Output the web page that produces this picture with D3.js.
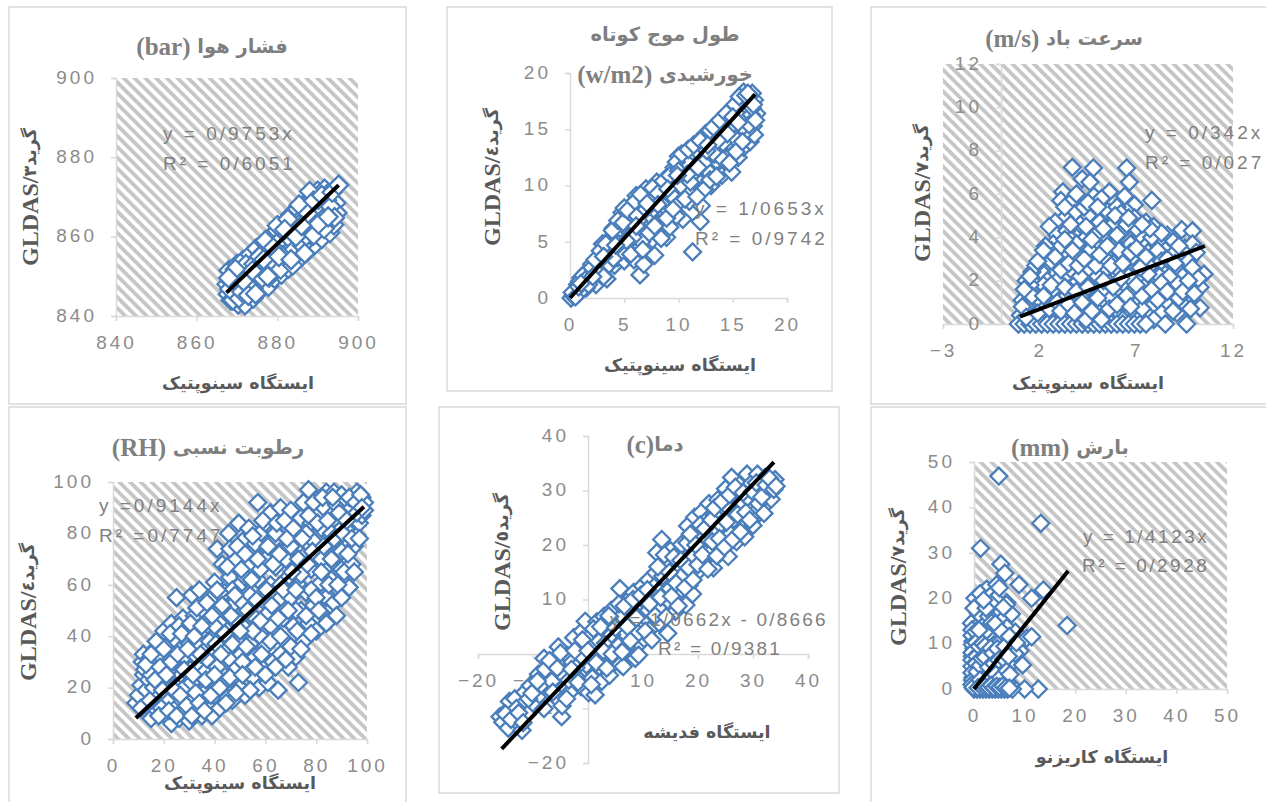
<!DOCTYPE html>
<html>
<head>
<meta charset="utf-8">
<script src="https://cdn.jsdelivr.net/npm/d3@7"></script>
<style>
  body { margin: 0; background: #fff; }
  .tick text { font-family: "Liberation Sans", sans-serif; font-size: 19px; letter-spacing: 3px; fill: #8c8c8c; }
  .title { font-family: "DejaVu Sans", sans-serif; font-weight: bold; font-size: 19.5px; fill: #7f7f7f; direction: rtl; }
  .axis-title { font-family: "DejaVu Sans", sans-serif; font-weight: bold; font-size: 17.5px; fill: #595959; direction: rtl; }
  .latin { font-family: "Liberation Serif", serif; }
  .eq { font-family: "Liberation Sans", sans-serif; font-size: 19px; letter-spacing: 3px; fill: #7f7f7f; }
</style>
</head>
<body>
<div id="chart"></div>
<script>
// values, [station, GLDAS]
const pressurePoints = [
  [867.5,848],[868,851.5],[867.8,845.5],[868.5,844],[869,846.5],[869.5,849],[870,853],[870.3,843],[870.8,847],[871,850.5],
  [871.5,854],[871.8,845],[872,842.8],[872.5,848.5],[873,852],[873.3,855.5],[873.6,846],[874,844.5],[874.3,850],[874.8,857],
  [875,853.5],[875.3,848],[875.8,846.5],[876,855.5],[876.3,851],[876.8,858.5],[877,849],[877.4,853.5],[877.8,847.5],[878,856.5],
  [878.3,860],[878.7,851],[879,854.5],[879.3,849.5],[879.7,858],[880,861.5],[880.3,852.5],[880.7,856],[881,850.5],[881.2,863],
  [881.6,859.5],[882,854],[882.3,857],[882.7,852],[883,862],[883.3,865.5],[883.6,855.5],[884,859],[884.4,853.5],[884.7,863.5],
  [885,867],[885.3,857],[885.7,861],[886,855],[886.3,865],[886.7,859],[887,868.5],[887.3,862.5],[887.7,856.5],[888,866],
  [888.3,860],[888.7,870],[889,864],[889.3,858],[889.7,867.5],[890,871.5],[890.3,861.5],[890.7,865],[891,859.5],[891.3,869],
  [891.7,872],[892,863],[892.3,867],[892.7,871],[893,861],[893.3,865.5],[893.7,869],[894,863],[894.5,868.5],[894.8,866],
  [876.5,852],[872.4,850],[878.6,855],[881.4,858],[884,861],[887,864],[889.5,866],[874.5,849],[879.5,853],[883,857],
  [885.5,859],[886.5,861.5],[888.5,862.5],[890.5,867],[877.5,851],[880.5,854],[882.5,856],[870,845],[869,844],[873,849],
  [875.5,850.5],[868.7,848.5],[870.5,844.5],[871.5,851.5],[874,847],
  [868.2,846.8],[869.2,850.4],[870.2,848.2],[871.2,846.1],[872.2,853],[873.2,847.2],[874.2,853.1],[875.2,851.6],[876.2,849.6],[877.2,855.8],
  [878.2,852.4],[879.2,856.2],[880.2,858.6],[881.2,855.2],[882.2,860.6],[883.2,859.4],[884.2,856.8],[885.2,863],[886.2,857.8],[887.2,860.2],
  [888.2,868],[889.2,861.2],[890.2,869.4],[891.2,864.4],[892.2,869.2],[893.2,867.6],[872.8,845.2],[875.6,855],[878,849.8],[880.8,851.8],
  [883.8,852.8],[886.8,855.8],[889,860.4],[891.6,862],[894.2,864.8],[877,859],[880,862.8],[882.6,864.4],[885.4,868],[888,871.4],
  [873.8,851.4],[876.6,854.2],[879,857.2],[881.8,861.8],[884.6,860],[887.6,865.8],[890.2,863.2],[892.6,865],[869.6,851.8],[871.6,848.8],
  [874.6,845.6],[877.6,850],[880.4,855],[883.4,854.2],[886,862.8],[889,869],[891,870.4],[893.6,871.2],[867.9,849.6],[895.2,873]
];
const solarPoints = [
  [0.1,0],[0.4,0.5],[0.7,1.2],[1,1.8],[0.8,0.4],[1.3,1.1],[1.6,2.4],[2,3],[2,1.5],[2.4,1.2],[2.7,3.6],[3,4.8],[3,2.6],[3.4,1.7],
  [3.7,4.2],[4,6.2],[4.1,2.9],[4.4,3.6],[4.6,5.2],[4.8,7.6],[5,3.3],[5.2,6.3],[5.5,4.6],[5.6,7.2],[5.9,3.4],[6,5.6],[6.1,9.1],[6.45,2.05],
  [6.5,6.1],[6.7,8.2],[6.8,3],[7,9.7],[7.1,4.4],[7.4,6.8],[7.5,8.6],[7.8,3.8],[8,5.9],[8,10.3],[8.3,7.4],[8.5,9],[8.9,5.4],[9,10.8],
  [9.1,7.7],[9.4,8.6],[9.6,11.6],[9.9,9.6],[10,12.6],[10.4,7],[10.5,10.3],[10.7,13],[11,8.6],[11.1,11.9],[11.3,4.1],[11.5,9.8],[11.7,13.8],
  [12,6.8],[12.1,8.2],[12.2,11],[12.5,14.6],[12.7,12.4],[13,10],[13.1,13.2],[13.4,15.3],[13.7,11.6],[13.9,14.4],[14,10.9],[14.3,16],[14.4,12.8],
  [14.7,15.2],[14.9,11.2],[15,13.4],[15.3,16.9],[15.5,12.5],[15.6,14.6],[15.8,17.6],[16,18.3],[16,13.4],[16.2,15.8],[16.4,16.9],[16.6,13.9],
  [16.8,18.2],[16.9,15.3],[17,14.5],[17.2,16.4],[17,17.6],[16.5,17.9],
  [1.5,0.9],[2.2,2.2],[3.2,3.2],[3.8,5.4],[4.3,4.4],[4.9,5.6],[5.3,4.1],[5.7,6.5],[6.2,4.9],[6.4,7.7],[6.9,5.3],[7.2,7.4],[7.6,5.2],[7.9,8.8],
  [8.2,6.6],[8.7,8.1],[8.8,10],[9.2,6.3],[9.7,10.2],[10.1,8.6],[10.3,11.4],[10.9,9.4],[11.2,12.7],[11.6,10.6],[11.9,12.1],[12.3,13.4],
  [12.8,11.2],[13.2,14.2],[13.5,12.2],[13.8,13.3],[14.2,15],[14.6,13.9],[15.1,15.5],[15.4,14],[15.7,16.2],[16.1,17.2],[16.3,14.9],[16.7,16.3],
  [1.1,0.7],[1.9,2.4],[2.5,2.9],[2.9,2],[3.5,3.9],[4.2,5.6],[4.7,4.1],[5.1,7],[5.4,5.4],[5.8,8.4],[6.3,6.9],[6.6,5],[7.3,9.1],[7.7,7.9],
  [8.4,9.5],[9.3,9.2],[9.8,7.3],[10.2,10],[10.6,12.2],[11.4,11.1],[11.8,13],[12.4,9.7],[12.9,14.9],[13.3,12.8],[14.1,13.8],[14.8,16.2],
  [15.2,17.2],[15.9,15.2],[16.6,17.4],[0.3,0.2],[0.6,0.8],[0.9,1.5],
  [0.2,0.5],[0.5,0.1],[0.8,1],[1.2,2],[1.4,1.6],[1.7,1.2],[2,2.7],[2.3,3.4],[2.6,2.2],[2.8,4.2],[3.1,1.9],[3.3,4.8],[3.6,3],[3.9,6],[4,3.5],
  [4.4,6.9],[4.5,4.8],[4.9,6.7],[5,8],[5.3,7.8],[5.6,3.9],[5.8,5.4],[6,8.6],[6.2,7.3],[6.5,9.2],[6.7,4.3],[7,7.9],[7.3,5.8],[7.6,9.8],[7.8,6.4],
  [8.1,9.3],[8.4,5.3],[8.6,10.4],[8.9,7.1],[9.2,10.9],[9.5,7.9],[9.8,12.1],[10,11.3],[10.3,12.8],[10.6,8.8],[10.9,13.2],[11.1,10.3],[11.4,13.6],
  [11.7,9],[12,14],[12.3,12],[12.6,13.1],[12.9,10.5],[13.2,15.2],[13.5,10.8],[13.8,15.8],[14.1,12.3],[14.4,16.4],[14.7,12],[15,16.1],[15.3,13],
  [15.6,17.9],[15.9,13.9],[16.2,18],[16.5,15.4],[16.8,16.9],[17.1,15.8],[16.9,17.2],[16.4,18.2],[15.5,15.6],[14.5,14.6],[13.6,14],[12.7,13.6],
  [11.8,11.6],[10.8,11],[9.9,10.9],[9,9.7],[8.1,8.3],[7.1,8.4],[6.1,6.4],[5.2,5.1],[4.2,4.7],[3.1,3.7],[2.1,1.9],[1,1.3]
];
const windPoints = [
  [3.69,7.23],[4.78,7.2],[6.5,7.2],[6.64,6.55],[4.2,6.7],[4.6,6.55],[7.8,5.7],[9.35,4.35],[9.9,4.3],[10.5,2.3],[10.3,0.75],[10.3,1.7],
  [3.2,6.1],[3.1,5.7],[3.7,5.7],[4.8,5.9],[5.6,6.1],[6.4,5.9],[6.9,5.5],[5.5,5.2],[6.5,5.2],[4.5,5],[3.8,5.1],[3.3,4.9],[2.8,4.7],[2.5,4.5],
  [2.9,4.1],[2.7,3.7],[3.4,4.3],[4.1,4.6],[5.1,4.7],[5.8,4.6],[6.9,4.9],[7.5,4.7],[7.9,4.5],[7.2,4.1],[6.3,4.3],[5.4,4.1],[4.4,4],[3.6,3.9],
  [8.6,4.1],[8.9,3.8],[8.2,3.7],[7.5,3.6],[6.7,3.7],[5.9,3.7],[5,3.5],[4.2,3.4],[3.3,3.3],[2.6,3.4],[2.2,3],[2.4,2.7],[3,2.8],[3.8,3],
  [4.7,3],[5.5,3.1],[6.4,3.1],[7.2,3],[8,3.1],[8.8,3],[9.5,3.5],[9.9,3.7],[10.1,3.3],[9.7,2.9],[9.1,2.5],[8.4,2.5],[7.7,2.7],[6.9,2.5],
  [6.2,2.4],[5.4,2.5],[4.5,2.5],[3.6,2.4],[2.8,2.4],[2.1,2.4],[1.6,2.4],[1.3,2],[1.7,1.9],[2.4,2],[3.2,2.1],[3.9,1.9],[4.7,1.9],[5.6,1.9],
  [6.4,1.8],[7.2,2],[8,1.9],[8.8,1.8],[9.4,2.2],[9.9,2.6],[10.2,2.1],[9.6,1.6],[9.1,1.9],[8.4,1.4],[7.6,1.4],[6.8,1.5],[6,1.4],[5.2,1.5],
  [4.3,1.4],[3.5,1.6],[2.7,1.6],[2,1.5],[1.4,1.5],[1.1,1.1],[1.7,1.1],[2.4,1.1],[3.1,1.1],[3.9,1],[4.7,1],[5.5,0.9],[6.3,1],[7.1,1],
  [7.9,0.9],[8.6,0.9],[9.3,1],[9.8,0.7],[9.1,0.5],[8.3,0.5],[7.5,0.5],[6.7,0.5],[5.9,0.5],[5.1,0.5],[4.4,0.6],[3.6,0.6],[2.8,0.6],[2.1,0.7],
  [1.4,0.7],[1,0.4],[1.7,0.4],[2.4,0.3],[3.2,0.3],[4,0.3],[4.8,0.2],[5.5,0.3],[6.3,0.2],[7.1,0.2],[7.9,0.2],[8.5,0],[9.6,0],[0.9,0],
  [1.2,0],[1.5,0],[1.8,0],[2.1,0],[2.4,0],[2.7,0],[3,0],[3.3,0],[3.6,0],[3.9,0],[4.2,0],[4.5,0],[4.8,0],[5.1,0],[5.4,0],[5.7,0],[6,0],[6.3,0],
  [6.6,0],[6.9,0],[7.2,0],[7.5,0],[4.1,0.8],[4.6,1.7],[5,2.2],[5.8,2.8],[6.6,2.2],[7.4,1.7],[8.2,2.2],[3.4,1.3],[2.9,2],[2.2,1.8],[1.9,1.2],
  [4.9,4.1],[5.3,3.1],[6.1,3.4],[6.8,3.1],[7.6,3.3],[8.5,3.4],[3.1,3.6],[3.9,3.7],[4.6,3.4],[5.2,5.8],[4.3,5.4],[6,5.4],[6.2,5.1],[7,4.4],
  [7.8,4],[8.3,4.2],[3.6,4.6],[2.6,2.9],[1.8,2.7],[1.5,1.8],[9,3.3],[9.2,1.2],[8.7,2.2],[7.3,0.7],[5.7,1.2],[4.1,2.2],
  [1.1,0.8],[1.3,0.3],[1.6,1.3],[1.9,0.5],[2.2,1.3],[2.5,0.7],[2.6,1.8],[2.9,1],[3.1,0.6],[3.3,1.7],[3.5,0.9],[3.8,0.5],[3.9,1.5],[4.2,1],[4.4,0.2],
  [4.5,1.7],[4.7,0.6],[5,1.2],[5.2,0.2],[5.3,2],[5.6,0.7],[5.8,1.7],[6,0.9],[6.2,2.1],[6.5,1.3],[6.7,0.8],[7,1.8],[7.3,1.3],[7.6,2.3],[7.8,1.6],
  [8.1,1.1],[8.3,1.9],[8.6,1.5],[8.9,0.6],[9.4,1.5],[9.7,2],[2.3,3.6],[2.8,3.1],[3.1,2.5],[3.3,3.9],[3.5,2.8],[3.7,3.4],[4,2.7],[4.3,3],[4.4,4.5],
  [4.7,3.9],[4.9,2.7],[5.1,3.2],[5.3,4.4],[5.5,3.6],[5.7,2.7],[6,4.1],[6.3,2.8],[6.5,4.6],[6.7,3.3],[7,3.5],[7.2,2.6],[7.5,3.1],[7.7,4.4],[8.1,3.4],
  [8.3,2.9],[8.6,3],[9,2.8],[9.2,3.6],[3.3,5.4],[3.9,6],[4.5,5.6],[5,5.4],[5.9,5],[6.6,4.9],[7.3,4.6],[1.2,1.6],[1.5,2.2],[1.9,2.9],[2.2,3.4],[10,1.4]
];
const humidityPoints = [
  [9,14],[10,17],[11,21],[12,25],[11.5,30],[12,33],[12.5,27],[13,19],[14,23],[14,31],[15,8],[15.5,14],[16,20],[16,27],[16.5,35],[17,31],
  [17.5,11],[18,24],[18.5,17],[19,38],[19,29],[20,42],[20,13],[20.5,21],[21,9],[21,33],[22,26],[22,37],[23,6],[23,45],[23.5,17],[24,12],
  [24,30],[25,55],[25,21],[25.5,40],[26,8],[26,35],[27,15],[27,25],[27.5,47],[28,32],[28,11],[29,43],[29,20],[30,37],[30,7],[30.5,27],
  [31,56],[31.5,15],[32,33],[32,48],[33,23],[33.5,11],[34,41],[34,58],[35,9],[35,28],[35.5,50],[36,36],[36,18],[37,46],[37,13],[38,24],
  [38,54],[39,9],[39,33],[39.5,40],[40,61],[40,17],[41,74],[41,28],[41.5,50],[42,45],[42,12],[43,36],[43,68],[44,22],[44,57],[45,16],
  [45,42],[45.5,80],[46,31],[46,63],[47,52],[47,15],[48,27],[48,70],[49,38],[49,46],[49.5,84],[50,20],[50,60],[50.5,33],[51,77],[51,53],
  [52,17],[52,43],[53,26],[53,67],[53.5,82],[54,37],[54,56],[55,24],[55,73],[56,47],[56,32],[57,92],[57,62],[57.5,20],[58,40],[58,80],
  [59,28],[59,54],[60,70],[60,36],[61,22],[61,49],[62,88],[62,60],[63,30],[63,77],[64,41],[64,67],[65,19],[65,54],[66,90],[66,33],[67,47],
  [67,73],[68,62],[68,38],[69,82],[69,28],[70,55],[70,89],[71,44],[71,69],[72,32],[72,77],[73,22],[73,60],[74,50],[74,86],[75,38],[75,71],
  [76,93],[76,57],[77,97],[77,45],[78,66],[78,84],[79,52],[79,77],[80,93],[80,42],[81,60],[81,71],[82,82],[82,49],[83,90],[83,66],[84,96],
  [84,55],[85,76],[85,46],[86,87],[86,62],[87,96],[87,53],[88,71],[88,91],[89,58],[89,81],[90,95],[90,66],[91,87],[91,75],[92,93],[92,60],
  [93,59],[93,82],[94,90],[94,68],[95,75],[95,85],[96,96],[96,79],[97,91],[97,84],[98,87],[98,94],[99,89],[99,92],
  [18,33],[21,15],[24,39],[28,20],[33,38],[36,26],[40,44],[44,35],[47,58],[51,30],[55,42],[58,66],[62,44],[66,60],[70,75],[74,64],[78,58],
  [82,70],[86,80],[90,73],[15,25],[19,12],[26,44],[31,22],[37,31],[42,57],[46,74],[52,63],[56,76],[60,84],[64,80],[68,70],[72,50],[76,80],
  [11,12],[13,29],[14.5,15],[15,33],[16.5,23],[17,38],[18,9],[18.5,28],[19.5,19],[20,35],[21,25],[22,11],[22.5,41],[23,30],[24,19],[25,9],[25.5,33],
  [26.5,17],[27,41],[28,27],[29,13],[29.5,35],[30.5,45],[31,9],[31.5,25],[32,40],[32.5,18],[33,51],[34,14],[34.5,33],[35,44],[36,11],[36.5,23],
  [37,53],[38,38],[38.5,17],[39,48],[40,25],[40.5,37],[41,58],[42,20],[42.5,33],[43,52],[44,41],[44.5,14],[45,67],[46,24],[46.5,48],[47,37],[48,56],
  [48.5,18],[49,75],[50,42],[50.5,66],[51,25],[52,72],[52.5,36],[53,50],[54,19],[54.5,62],[55,79],[56,28],[56.5,54],[57,70],[58,46],[58.5,33],[59,85],
  [60,25],[60.5,58],[61,75],[62,38],[62.5,52],[63,68],[64,28],[64.5,84],[65,47],[65.5,72],[66,40],[67,58],[67.5,85],[68,31],[68.5,78],[69,50],[70,36],
  [70.5,65],[71,82],[72,58],[72.5,42],[73,70],[74,35],[74.5,78],[75,92],[76,48],[76.5,68],[77,87],[78,41],[78.5,73],[79,92],[80,55],[80.5,84],[81,50],
  [82,65],[82.5,94],[83,75],[84,45],[84.5,85],[85,60],[86,70],[86.5,94],[87,78],[88,48],[88.5,60],[89,88],[90,55],[90.5,80],[91,65],[92,85],[92.5,72],
  [93,94],[94,78],[95,65],[95.5,92],[96,88],[97,78],[97.5,95],[98,90]
];
const temperaturePoints = [
  [-16,-11.5],[-15.5,-12.5],[-14.8,-10.5],[-14.3,-8.7],[-14.5,-13.6],[-13.6,-11],[-13.3,-8.2],[-12.9,-12.5],[-12,-14],[-12.1,-9.5],[-11.5,-7],
  [-11,-11],[-10.5,-5.8],[-10,-9],[-9.5,-6.5],[-9,-3.7],[-8.8,-7.5],[-8,-0.8],[-8,-10],[-7.5,-4.5],[-7.1,-6.9],[-6.8,-2.2],[-6.2,-4],[-5.8,-8],
  [-5.4,1.3],[-5.2,-1.2],[-4.8,-11.5],[-4.7,-9.5],[-4.4,-6.1],[-4,-3.3],[-3.7,-0.3],[-3.2,-6.9],[-2.9,-1.5],[-2.6,3],[-2.2,-4.1],[-1.7,0.4],
  [-1.3,-6],[-1.1,4.2],[-0.7,1.6],[-0.5,6],[-0.3,-2],[0.1,-7.1],[0.4,3.3],[0.8,-4.4],[1.1,0.2],[1.3,-7.5],[1.6,5.9],[2,2.3],[2.1,-2.3],[2.5,-5],
  [2.9,6.9],[3.1,-0.7],[3.5,4.4],[3.9,-3.9],[4.2,8],[4.6,1.7],[4.9,-1.5],[5.3,6],[5.8,12],[5.9,-1.9],[6.4,-2.3],[6.8,3.7],[7.1,9.7],[7.5,-0.1],
  [7.9,5.8],[8.3,11.3],[8.6,-0.8],[9,1.5],[9.4,8.2],[9.9,12.5],[10.2,2.8],[10.6,6.5],[11,13.6],[11.4,4.7],[11.9,9.5],[12.3,14.9],[12.5,18.6],
  [13,8.2],[13.4,21],[13.7,11.3],[14,16.4],[14.5,3.8],[14.6,9.8],[15,19],[15.4,13],[15.9,7.8],[16.2,17.2],[16.6,11.5],[17,20.1],[17.4,15],
  [17.8,9],[18.1,23.5],[18.4,12.6],[18.8,18.6],[19,11],[19.4,25.1],[19.8,14.9],[20.2,21.3],[20.6,26],[21,16.8],[21.5,24.5],[22,27.6],[22.3,19.5],
  [22.8,15.8],[23.2,22.7],[23.6,28.3],[24,18.5],[24.5,25.8],[25,30.3],[25.5,17.9],[25.9,22],[26.1,32.4],[26.6,27.6],[27,20.6],[27.5,31],[28,24.4],
  [28.5,21.5],[28.9,33],[29.2,26.7],[29.7,31.3],[30,23.6],[30.3,28.8],[30.8,33],[31.2,25.9],[31.8,30],[32.2,32.4],[32.5,27.7],[33.1,29.6],[33.6,31.2],[34,32],
  [-13,-10],[-10.8,-8.2],[-8.5,-5.6],[-6.6,-5],[-4.9,-3.5],[-3.5,-4.8],[-2.2,-2.5],[-0.9,-0.7],[0.3,1],[1.8,-0.6],[3.2,2],[4.3,3.6],[5.5,1.5],[6.1,7],
  [7,1.3],[8,7.9],[9.1,3.8],[10,10],[11,8],[12,12.3],[12.9,5.7],[13.6,14.3],[14.9,12],[15.8,15.3],[16.8,14.1],[18,20.4],[19.2,17.8],[20.4,23.7],[21.7,21.1],
  [22.9,25.6],[24.1,23.8],[25.3,27],[26.5,24.7],[27.8,28],[29,28.7],[30.5,26.1],[31.5,31.5],[32.8,30.8],[33.3,28.4],
  [-15,-11],[-14,-12],[-12.6,-10.8],[-11.8,-12.6],[-10.2,-7.2],[-9.2,-5],[-7.8,-2.8],[-7,-1.2],[-6.4,-7],[-5.6,-2.6],[-5,0.2],[-3.9,-8.2],[-3,-2.8],[-2.4,0.6],
  [-1.8,-5.2],[-1,2.6],[0,0.6],[0.6,-5.6],[1,4.6],[1.5,-1.6],[2.3,5],[2.8,0.6],[3.4,-2.6],[3.8,7],[4.4,0],[5,4.8],[5.6,9.2],[6.2,0.4],[6.6,8.8],[7.2,5],
  [7.7,2.4],[8.2,10],[8.8,6.6],[9.2,-0.2],[9.6,10.8],[10.4,4.2],[10.8,11.8],[11.2,9.2],[11.6,2.6],[12.2,7],[12.7,16],[13.2,10.4],[13.9,18.2],[14.2,6.8],[14.8,15],
  [15.2,10.6],[15.6,17.8],[16,13],[16.4,8.8],[16.9,17.2],[17.6,12.2],[18.3,15.8],[18.6,22],[19.1,13.6],[19.6,20],[20,16.4],[20.8,18.2],[21.2,23],[21.8,15.6],[22.4,24.6],
  [22.6,20.6],[23,26.8],[23.4,18],[23.9,21.2],[24.3,28],[24.8,19.6],[25.2,24.2],[25.7,29.2],[26.3,21],[26.8,30.6],[27.2,25.6],[27.7,22.4],[28.2,29.6],[28.7,26],[29.4,24.6],
  [29.9,29.8],[30.6,31.4],[31,27.6],[31.6,28.8],[32,25.8],[32.4,31],[33,32.2],[33.8,30.2],[34.2,30.8]
];
const precipitationPoints = [
  [4.9,46.9],[13.2,36.5],[1.3,31],[5.3,27.5],[6.1,25.5],[8.9,23],[13.7,21.8],[11.4,20],[18.4,14],[0.2,20],[2.5,22],[4.5,23],[6.5,19],[7.4,16.5],
  [10.4,11.2],[11.4,11.5],[9.1,8.4],[7.7,6],[9.6,5.3],[12.7,0],[10,0],[7.6,0],[5.9,2.2],[1.2,21],[1.6,18.5],[3.2,20.5],[3.7,17],[4.2,19.8],[5,22.3],
  [6.4,18.6],[1.5,16],[0,15],[-0.5,14.5],[0.3,13.5],[1.8,14],[2,14.5],[2.8,13.5],[4.4,16.5],[5.4,15],[6.5,13.5],[4.4,12.5],[0.5,11.7],[1.2,11.5],
  [2.6,10.8],[3.4,11],[5.7,10.5],[-0.2,10.5],[0,9],[0.3,8.2],[1.8,8.2],[2.8,8.5],[4,7],[5.2,8.4],[6.2,8.2],[8.2,12.5],[7.4,9.8],[-0.3,7.2],
  [0,6],[0.8,6.3],[2.5,5.5],[3.2,6],[4.8,5],[0.2,4.8],[1.4,4.4],[3,3.2],[5.1,3.7],[0,3.5],[-0.2,2.5],[0.7,2.7],[2,2.4],[3.6,2.2],[5.5,1.6],
  [0,1.5],[0.5,1],[1.5,1.2],[2.7,1],[4,1],[0,0],[0.6,0],[1.2,0],[1.8,0],[2.4,0],[3,0],[3.6,0],[4.2,0],[4.8,0],[5.4,0],[6,0],[6.6,0],[0.3,0.4],
  [7.2,1],[6.2,2.8],[8.1,7.8],[3.9,9.7],[2.2,12.6],[0.9,16.6],[0,17.8],[2.9,16],[5.9,12],[4.8,10],[1,7.2],[2,3.6],[3.4,4.2],
  [-0.4,13],[-0.4,11.8],[-0.3,9.8],[-0.4,8],[-0.4,6.4],[-0.4,5],[-0.4,3.6],[-0.3,2],[-0.4,1],[-0.2,0.4],[0.3,12.6],[0.4,10.2],[0.5,7.2],[0.4,5.6],[0.6,3.8],
  [1,13],[1,9.4],[1.2,5.2],[1.2,2],[1.5,6.8],[1.7,10],[2.2,9.5],[2.2,7],[2.5,1.8],[2.9,4.8],[3.3,9],[3.5,14.6],[3.7,7.9],[3.9,5.6],[4.2,14.4],[4.3,3.2],
  [4.6,8.9],[4.9,6.4],[5.2,2.5],[5.5,12.6],[5.9,6.6],[6.1,9.4],[6.5,4],[6.8,7.2],[3.5,18.6],[2.4,17.8],[1.9,19.6],[5.8,18],[7,11.6],[8.4,10.2],[6.6,1.4],[7.1,3.2],
  [0.8,0.3],[1.6,0.4],[2.2,0.5],[2.9,0.4],[3.4,0.8],[3.9,0.3],[4.5,0.6],[5.1,0.4],[5.7,0.7],[6.3,0.3],[7,0.2]
];
const pressureTrend = [[867.4, 845.9], [895.2, 873]];
const solarTrend = [[0, 0], [17.05, 18.1]];
const windTrend = [[0.98, 0.34], [10.55, 3.6]];
const humidityTrend = [[9, 8.2], [98.8, 90.4]];
const temperatureTrend = [[-15.7, -17.4], [33.8, 35.2]];
const precipitationTrend = [[0, 0], [18.6, 26]];

const pressureTicks = [840, 860, 880, 900];
const solarTicks = [0, 5, 10, 15, 20];
const windXTicks = [-3, 2, 7, 12];
const windYTicks = [0, 2, 4, 6, 8, 10, 12];
const humidityTicks = [0, 20, 40, 60, 80, 100];
const temperatureTicks = [-20, -10, 0, 10, 20, 30, 40];
const precipitationTicks = [0, 10, 20, 30, 40, 50];

const width = 1266, height = 802;
const blue = "#4a7ebb";

const panels = [
  { box: [9, 7, 397, 397], x: [116, 358], y: [316, 78], xDomain: [840, 900], yDomain: [840, 900],
    xTicks: pressureTicks, yTicks: pressureTicks, points: pressurePoints, trend: pressureTrend, hatch: true, size: 19,
    title: ["فشار هوا (bar)"], titleAt: [212, [46]], xTitle: "ایستگاه سینوپتیک", xTitleAt: [238, 383],
    yTitle: "گرید۳/GLDAS", yTitleAt: [30, 197],
    eq: [["y = 0/9753x", 163, 133], ["R² = 0/6051", 163, 163]] },
  { box: [447, 7, 385, 384], x: [570, 787], y: [298, 73], xDomain: [0, 20], yDomain: [0, 20],
    xTicks: solarTicks, yTicks: solarTicks, points: solarPoints, trend: solarTrend, hatch: false, size: 17,
    title: ["طول موج کوتاه", "خورشیدی (w/m2)"], titleAt: [665, [34, 74]], xTitle: "ایستگاه سینوپتیک", xTitleAt: [680, 365],
    yTitle: "گرید٤/GLDAS", yTitleAt: [492, 177],
    eq: [["y = 1/0653x", 695, 208], ["R² = 0/9742", 695, 238]] },
  { box: [871, 7, 400, 397], x: [943, 1233], y: [324, 64], xDomain: [-3, 12], yDomain: [0, 12],
    xTicks: windXTicks, yTicks: windYTicks, points: windPoints, trend: windTrend, hatch: true, size: 17,
    title: ["سرعت باد (m/s)"], titleAt: [1064, [38]], xTitle: "ایستگاه سینوپتیک", xTitleAt: [1088, 383],
    yTitle: "گرید۷/GLDAS", yTitleAt: [922, 193],
    eq: [["y = 0/342x", 1145, 132], ["R² = 0/027", 1145, 162]] },
  { box: [9, 407, 397, 400], x: [113, 367], y: [739, 482], xDomain: [0, 100], yDomain: [0, 100],
    xTicks: humidityTicks, yTicks: humidityTicks, points: humidityPoints, trend: humidityTrend, hatch: true, size: 17,
    title: ["رطوبت نسبی (RH)"], titleAt: [208, [447]], xTitle: "ایستگاه سینوپتیک", xTitleAt: [240, 783],
    yTitle: "گرید٤/GLDAS", yTitleAt: [28, 612],
    eq: [["y =0/9144x", 99, 505], ["R² =0/7747", 99, 535]] },
  { box: [439, 407, 400, 386], x: [478, 808], y: [763, 436], xDomain: [-20, 40], yDomain: [-20, 40],
    xTicks: temperatureTicks, yTicks: temperatureTicks, points: temperaturePoints, trend: temperatureTrend, hatch: false, size: 17,
    title: ["دما(c)"], titleAt: [655, [444]], xTitle: "ایستگاه فدیشه", xTitleAt: [707, 732],
    yTitle: "گرید٥/GLDAS", yTitleAt: [502, 562],
    eq: [["y = 1/0662x - 0/8666", 610, 619, 2.2], ["R² = 0/9381", 658, 648, 2.2]] },
  { box: [871, 407, 400, 400], x: [974, 1227], y: [689, 462], xDomain: [0, 50], yDomain: [0, 50],
    xTicks: precipitationTicks, yTicks: precipitationTicks, points: precipitationPoints, trend: precipitationTrend, hatch: true, size: 17,
    title: ["بارش (mm)"], titleAt: [1070, [447]], xTitle: "ایستگاه کاریزنو", xTitleAt: [1102, 757],
    yTitle: "گرید۷/GLDAS", yTitleAt: [898, 577],
    eq: [["y = 1/4123x", 1083, 536, 2.5], ["R² = 0/2928", 1082, 565, 2.5]] }
];

const svg = d3.select("#chart").append("svg")
  .attr("width", width)
  .attr("height", height)
  .style("display", "block");

// excel style wide diagonal hatch
const hatch = svg.append("defs").append("pattern")
  .attr("id", "hatch")
  .attr("patternUnits", "userSpaceOnUse")
  .attr("width", 7.6)
  .attr("height", 7.6)
  .attr("patternTransform", "rotate(-45)");
hatch.append("rect").attr("width", 7.6).attr("height", 7.6).attr("fill", "#fff");
hatch.append("rect").attr("width", 3.8).attr("height", 7.6).attr("fill", "#c6c6c6");

const diamond = size => `M0,${-size / 2}L${size / 2},0L0,${size / 2}L${-size / 2},0Z`;

// latin runs are drawn in a larger serif, the persian runs stay in the fallback face
function mixedText(sel, text, latinSize) {
  text.split(/([(A-Za-z\/][^\u0600-\u06ff]*)/).filter(s => s).forEach(s => {
    const isLatin = /^[(A-Za-z\/]/.test(s);
    const span = sel.append("tspan").text(s);
    if (isLatin) span.attr("class", "latin").style("font-size", latinSize + "px");
  });
}

panels.forEach(p => {
  const x = d3.scaleLinear().domain(p.xDomain).range(p.x);
  const y = d3.scaleLinear().domain(p.yDomain).range(p.y);
  const g = svg.append("g");

  g.append("rect")
    .attr("x", p.box[0]).attr("y", p.box[1])
    .attr("width", p.box[2]).attr("height", p.box[3])
    .attr("fill", "#fff").attr("stroke", "#d9d9d9").attr("stroke-width", 1.5);

  if (p.hatch) {
    g.append("rect")
      .attr("x", p.x[0]).attr("y", p.y[1])
      .attr("width", p.x[1] - p.x[0]).attr("height", p.y[0] - p.y[1])
      .attr("fill", "url(#hatch)");
  }

  // axes cross at zero when zero is inside the domain
  const xAt = y(p.yDomain[0] < 0 ? 0 : p.yDomain[0]);
  const yAt = x(p.xDomain[0] < 0 ? 0 : p.xDomain[0]);

  const xAxis = g.append("g").attr("transform", `translate(0,${xAt})`)
    .call(d3.axisBottom(x).tickValues(p.xTicks).tickSize(5).tickPadding(15).tickFormat(d => String(d).replace("-", "\u2212")));
  const yAxis = g.append("g").attr("transform", `translate(${yAt},0)`)
    .call(d3.axisLeft(y).tickValues(p.yTicks).tickSize(5).tickPadding(14).tickFormat(d => String(d).replace("-", "\u2212")));
  yAxis.selectAll("text").attr("dy", "0.28em");
  [xAxis, yAxis].forEach(a => {
    a.selectAll("path, line").attr("stroke", "#d9d9d9").attr("stroke-width", 1.5);
    a.attr("font-family", null).attr("font-size", null);
  });

  g.selectAll("path.mark")
    .data(p.points)
    .enter()
    .append("path")
    .attr("class", "mark")
    .attr("d", diamond(p.size))
    .attr("transform", d => `translate(${x(d[0])},${y(d[1])})`)
    .attr("fill", "#fff")
    .attr("stroke", blue)
    .attr("stroke-width", 2.3);

  g.append("path")
    .datum(p.trend)
    .attr("d", d3.line().x(d => x(d[0])).y(d => y(d[1])))
    .attr("stroke", "#000")
    .attr("stroke-width", 4)
    .attr("fill", "none");

  p.title.forEach((t, i) => {
    g.append("text").attr("class", "title")
      .attr("x", p.titleAt[0]).attr("y", p.titleAt[1][i])
      .attr("text-anchor", "middle").attr("dominant-baseline", "central")
      .call(mixedText, t, 25);
  });

  g.append("text").attr("class", "axis-title")
    .attr("x", p.xTitleAt[0]).attr("y", p.xTitleAt[1])
    .attr("text-anchor", "middle").attr("dominant-baseline", "central")
    .text(p.xTitle);

  g.append("text").attr("class", "axis-title")
    .attr("transform", `translate(${p.yTitleAt[0]},${p.yTitleAt[1]}) rotate(-90)`)
    .attr("text-anchor", "middle").attr("dominant-baseline", "central")
    .call(mixedText, p.yTitle, 24);

  g.selectAll("text.eq")
    .data(p.eq)
    .enter()
    .append("text")
    .attr("class", "eq")
    .attr("x", d => d[1]).attr("y", d => d[2])
    .attr("dominant-baseline", "central")
    .style("letter-spacing", d => d[3] ? d[3] + "px" : null)
    .text(d => d[0]);
});
</script>
</body>
</html>
